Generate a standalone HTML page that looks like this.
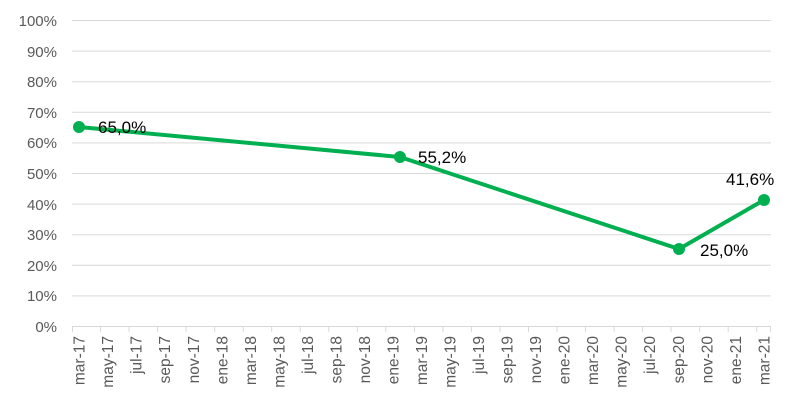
<!DOCTYPE html>
<html><head><meta charset="utf-8"><style>
html,body{margin:0;padding:0;background:#fff;}
svg{display:block;font-family:"Liberation Sans",sans-serif;}
</style></head><body>
<svg width="800" height="407" xmlns="http://www.w3.org/2000/svg">
<g stroke="#d9d9d9" stroke-width="1">
<line x1="72" x2="771" y1="20.5" y2="20.5"/>
<line x1="72" x2="771" y1="51.1" y2="51.1"/>
<line x1="72" x2="771" y1="81.7" y2="81.7"/>
<line x1="72" x2="771" y1="112.3" y2="112.3"/>
<line x1="72" x2="771" y1="142.9" y2="142.9"/>
<line x1="72" x2="771" y1="173.5" y2="173.5"/>
<line x1="72" x2="771" y1="204.1" y2="204.1"/>
<line x1="72" x2="771" y1="234.7" y2="234.7"/>
<line x1="72" x2="771" y1="265.3" y2="265.3"/>
<line x1="72" x2="771" y1="295.9" y2="295.9"/>
<line x1="72" x2="771" y1="326.5" y2="326.5"/>
</g>
<path stroke="#d9d9d9" stroke-width="1" fill="none" d="M72.5 326v6M100.5 326v6M129.1 326v6M157.6 326v6M186.1 326v6M214.7 326v6M243.2 326v6M271.7 326v6M300.2 326v6M328.8 326v6M357.3 326v6M385.8 326v6M414.4 326v6M442.9 326v6M471.4 326v6M500 326v6M528.5 326v6M557 326v6M585.5 326v6M614.1 326v6M642.6 326v6M671.1 326v6M699.7 326v6M728.2 326v6M756.7 326v6M770.5 326v6"/>
<g fill="#595959" font-size="15" text-anchor="end">
<text x="57" y="26">100%</text><text x="57" y="57">90%</text><text x="57" y="87">80%</text>
<text x="57" y="118">70%</text><text x="57" y="148">60%</text><text x="57" y="179">50%</text>
<text x="57" y="210">40%</text><text x="57" y="240">30%</text><text x="57" y="271">20%</text>
<text x="57" y="301">10%</text><text x="57" y="332">0%</text>
</g>
<g fill="#595959" font-size="15.5" text-anchor="end">
<text transform="translate(84.6,336) rotate(-90)">mar-17</text>
<text transform="translate(113.2,336) rotate(-90)">may-17</text>
<text transform="translate(141.7,336) rotate(-90)">jul-17</text>
<text transform="translate(170.2,336) rotate(-90)">sep-17</text>
<text transform="translate(198.8,336) rotate(-90)">nov-17</text>
<text transform="translate(227.3,336) rotate(-90)">ene-18</text>
<text transform="translate(255.8,336) rotate(-90)">mar-18</text>
<text transform="translate(284.3,336) rotate(-90)">may-18</text>
<text transform="translate(312.9,336) rotate(-90)">jul-18</text>
<text transform="translate(341.4,336) rotate(-90)">sep-18</text>
<text transform="translate(369.9,336) rotate(-90)">nov-18</text>
<text transform="translate(398.5,336) rotate(-90)">ene-19</text>
<text transform="translate(427,336) rotate(-90)">mar-19</text>
<text transform="translate(455.5,336) rotate(-90)">may-19</text>
<text transform="translate(484,336) rotate(-90)">jul-19</text>
<text transform="translate(512.6,336) rotate(-90)">sep-19</text>
<text transform="translate(541.1,336) rotate(-90)">nov-19</text>
<text transform="translate(569.6,336) rotate(-90)">ene-20</text>
<text transform="translate(598.2,336) rotate(-90)">mar-20</text>
<text transform="translate(626.7,336) rotate(-90)">may-20</text>
<text transform="translate(655.2,336) rotate(-90)">jul-20</text>
<text transform="translate(683.8,336) rotate(-90)">sep-20</text>
<text transform="translate(712.3,336) rotate(-90)">nov-20</text>
<text transform="translate(740.8,336) rotate(-90)">ene-21</text>
<text transform="translate(769.3,336) rotate(-90)">mar-21</text>
</g>
<polyline points="79,127 400,157 679,249 764,200" fill="none" stroke="#00b050" stroke-width="4" stroke-linejoin="round"/>
<g fill="#00b050"><circle cx="79" cy="127" r="6"/><circle cx="400" cy="157" r="6"/><circle cx="679" cy="249" r="6"/><circle cx="764" cy="200" r="6"/></g>
<g fill="#000" font-size="17">
<text x="98" y="133">65,0%</text>
<text x="418" y="163">55,2%</text>
<text x="700" y="256">25,0%</text>
<text x="726" y="185">41,6%</text>
</g>
</svg>
</body></html>
